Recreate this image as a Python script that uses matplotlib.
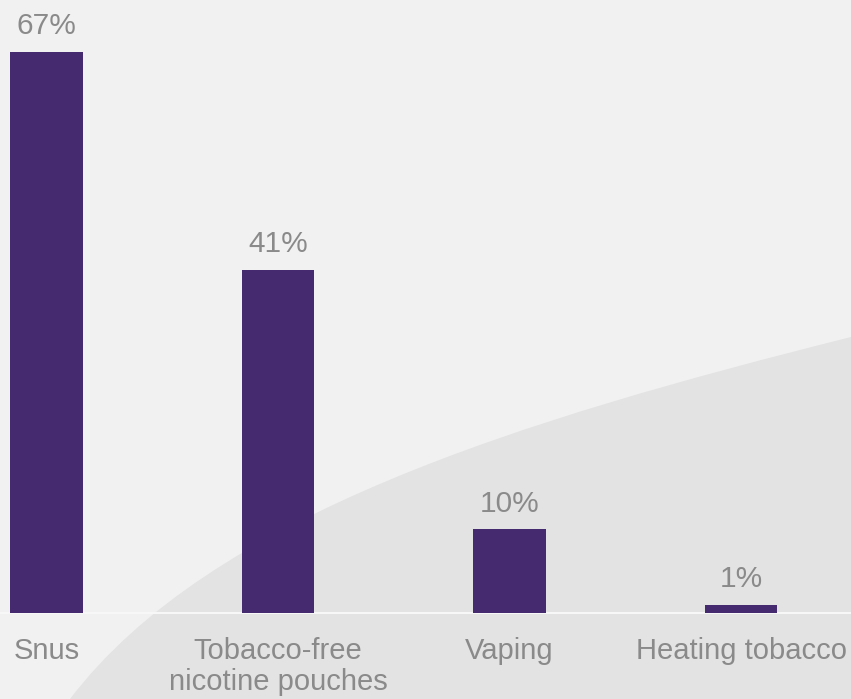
import matplotlib.pyplot as plt
from matplotlib.patches import PathPatch
from matplotlib.path import Path

categories = ["Snus", "Tobacco-free\nnicotine pouches", "Vaping", "Heating tobacco"]
shares = [67, 41, 10, 1]

bar_color = "#452a70"
text_color = "#8a8a8a"

plt.rcParams['font.family'] = ['Liberation Sans', 'DejaVu Sans']

fig = plt.figure(figsize=(8.51, 6.99), dpi=100)
fig.patch.set_facecolor("#f1f1f1")

# darker swoosh in the lower right of the background (pixel coords, y from top)
W, H = 851, 699
swoosh_px = [(70, 699), (210, 515), (520, 420), (851, 337), (851, 699), (70, 699)]
codes = [Path.MOVETO, Path.CURVE4, Path.CURVE4, Path.CURVE4,
         Path.LINETO, Path.CLOSEPOLY]
swoosh = PathPatch(Path([(x / W, 1 - y / H) for x, y in swoosh_px], codes),
                   transform=fig.transFigure, facecolor="#e3e3e3",
                   edgecolor="none", zorder=-1)
fig.patches.append(swoosh)

ax = fig.add_axes([0, 0, 1, 1])
ax.set_facecolor("none")

x = range(len(categories))
bars = ax.bar(x, shares, width=0.315, color=bar_color, zorder=3)
ax.axhline(0, color="#f7f7f7", lw=1.5, zorder=2)

for rect, val in zip(bars, shares):
    ax.text(rect.get_x() + rect.get_width() / 2, val + 1.4, f"{val}%",
            ha="center", va="bottom", fontsize=21.5, color=text_color)

for i, name in enumerate(categories):
    ax.text(i, -2.9, name, ha="center", va="top", fontsize=21,
            color=text_color, linespacing=1.12)

ax.set_xlim(-0.2009, 3.475)
ax.set_ylim(-10.27, 73.2)
ax.axis("off")

fig.savefig("out.png", dpi=100, facecolor=fig.get_facecolor())
